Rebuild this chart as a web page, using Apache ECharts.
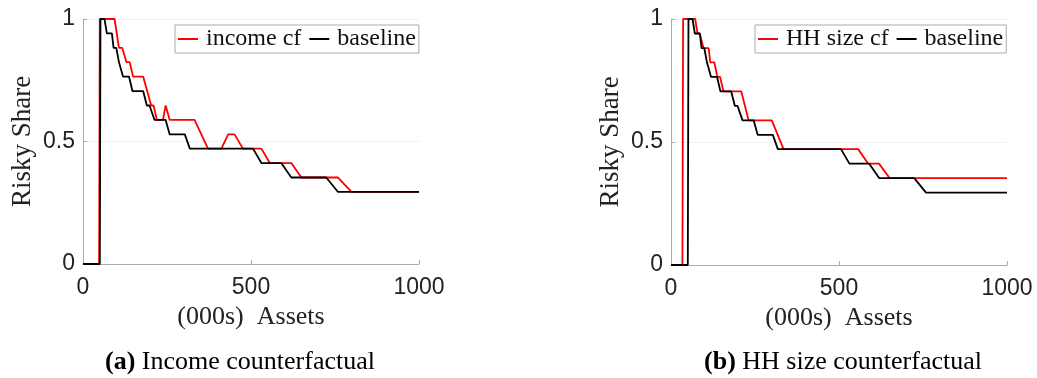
<!DOCTYPE html>
<html>
<head>
<meta charset="utf-8">
<script src="https://cdn.jsdelivr.net/npm/echarts@6/dist/echarts.min.js"></script>
<style>
  html, body { margin: 0; padding: 0; background: #fff; }
  #chart { width: 1037px; height: 378px; }
</style>
</head>
<body>
<div id="chart"></div>
<script>
// baseline (same in both panels)
const baseAssets = [0, 50, 52, 64, 71, 86, 91, 99, 107, 110, 119, 137, 147, 179, 190, 198, 213, 246, 258, 303, 318, 506, 531, 590, 620, 724, 759, 1000];
const baseShare = [0, 0, 1, 1, .941, .941, .882, .882, .824, .824, .765, .765, .706, .706, .647, .647, .588, .588, .529, .529, .471, .471, .412, .412, .353, .353, .294, .294];

// income counterfactual
const incomeAssets = [0, 48, 50, 94, 107, 117, 129, 139, 149, 179, 203, 210, 220, 238, 246, 258, 332, 372, 412, 432, 451, 476, 531, 556, 620, 650, 759, 799, 1000];
const incomeShare = [0, 0, 1, 1, .882, .882, .824, .824, .765, .765, .647, .647, .588, .588, .647, .588, .588, .471, .471, .529, .529, .471, .471, .412, .412, .353, .353, .294, .294];

// HH size counterfactual
const hhAssets = [0, 34, 36, 72, 79, 85, 97, 112, 117, 129, 138, 146, 156, 209, 231, 300, 335, 557, 587, 619, 651, 1000];
const hhShare = [0, 0, 1, 1, .941, .941, .882, .882, .824, .824, .765, .765, .706, .706, .588, .588, .471, .471, .412, .412, .353, .353];

const xTicks = [0, 500, 1000];
const yTicks = [0, 0.5, 1];

const zip = (xs, ys) => xs.map((x, i) => [x, ys[i]]);

const serif = 'Liberation Serif';
const sans = 'Liberation Sans';

const xAxisOf = (gridIndex) => ({
    type: 'value',
    gridIndex,
    min: xTicks[0],
    max: xTicks[xTicks.length - 1],
    interval: xTicks[1] - xTicks[0],
    name: '(000s)  Assets',
    nameLocation: 'middle',
    nameGap: 40,
    nameTextStyle: {fontFamily: serif, fontSize: 26, color: '#222'},
    axisLine: {lineStyle: {color: '#aaa', width: 1}},
    axisTick: {inside: true, length: 4, lineStyle: {color: '#aaa'}},
    axisLabel: {fontFamily: sans, fontSize: 23, color: '#222', margin: 12, formatter: (v) => String(v)},
    splitLine: {show: false}
});

const yAxisOf = (gridIndex) => ({
    type: 'value',
    gridIndex,
    min: yTicks[0],
    max: yTicks[yTicks.length - 1],
    interval: yTicks[1] - yTicks[0],
    name: 'Risky Share',
    nameLocation: 'middle',
    nameGap: 47,
    nameTextStyle: {fontFamily: serif, fontSize: 27, color: '#222'},
    axisLine: {show: true, lineStyle: {color: '#aaa', width: 1}},
    axisTick: {show: true, inside: true, length: 4, lineStyle: {color: '#aaa'}},
    axisLabel: {fontFamily: sans, fontSize: 23, color: '#222', margin: 8},
    splitLine: {show: true, lineStyle: {color: '#f0f0f0', width: 1}}
});

const lineOf = (name, idx, data, color) => ({
    name,
    type: 'line',
    xAxisIndex: idx,
    yAxisIndex: idx,
    data,
    showSymbol: false,
    symbol: 'none',
    lineStyle: {color, width: 1.8},
    itemStyle: {color},
    animation: false
});

const legendOf = (left, data) => ({
    left,
    top: 25,
    data,
    orient: 'horizontal',
    icon: 'rect',
    itemWidth: 20,
    itemHeight: 2,
    itemGap: 8,
    padding: [2, 3],
    borderColor: '#aaa',
    borderWidth: 1,
    backgroundColor: '#fff',
    textStyle: {fontFamily: serif, fontSize: 24, color: '#111', lineHeight: 24, padding: [0, 0, 0, 3]}
});

const captionOf = (left, text) => ({
    left,
    top: 344,
    textAlign: 'center',
    text,
    textStyle: {
        fontFamily: serif, fontSize: 26, fontWeight: 'normal', color: '#000',
        rich: {b: {fontFamily: serif, fontSize: 26, fontWeight: 'bold', color: '#000'}}
    }
});

const chart = echarts.init(document.getElementById('chart'));
chart.setOption({
    animation: false,
    backgroundColor: '#fff',
    title: [
        captionOf(235, '{b|(a)} Income counterfactual'),
        captionOf(838, '{b|(b)} HH size counterfactual')
    ],
    legend: [
        legendOf(175, ['income cf', 'baseline']),
        legendOf(755, ['HH size cf', 'baseline'])
    ],
    grid: [
        {left: 83, right: 618, top: 19, bottom: 114},
        {left: 671, right: 30, top: 19, bottom: 113}
    ],
    xAxis: [xAxisOf(0), xAxisOf(1)],
    yAxis: [yAxisOf(0), yAxisOf(1)],
    series: [
        lineOf('income cf', 0, zip(incomeAssets, incomeShare), '#ff0000'),
        lineOf('baseline', 0, zip(baseAssets, baseShare), '#000000'),
        lineOf('HH size cf', 1, zip(hhAssets, hhShare), '#ff0000'),
        lineOf('baseline', 1, zip(baseAssets, baseShare), '#000000')
    ]
});
</script>
</body>
</html>
